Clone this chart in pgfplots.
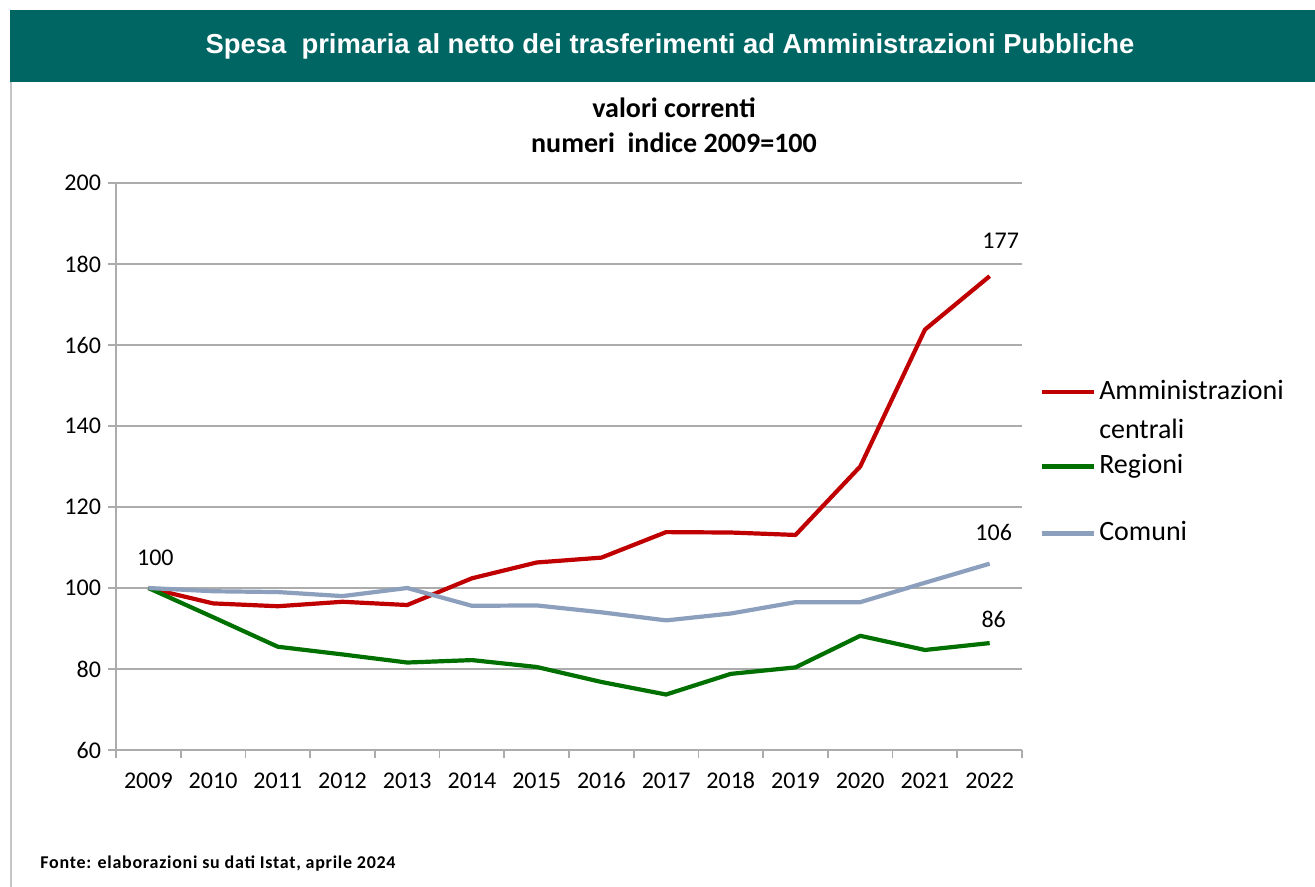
\documentclass[border=0pt]{standalone}
\usepackage{fontspec}
\setmainfont{Carlito}
\newfontfamily\titlefont{Liberation Sans}
\newfontfamily\sourcefont[LetterSpace=4]{Carlito}
\usepackage{pgfplots}
\pgfplotsset{compat=1.18}

\definecolor{banner}{RGB}{0,102,100}
\definecolor{gridgray}{RGB}{172,172,172}
\definecolor{amcentr}{RGB}{192,0,0}
\definecolor{regioni}{RGB}{0,112,0}
\definecolor{comuni}{RGB}{140,160,190}

\pgfplotsset{
  endlabel/.style={draw=none, forget plot, nodes near coords,
    point meta=explicit symbolic,
    nodes near coords style={anchor=center, inner sep=0pt, text=black,
      font=\fontsize{12bp}{14bp}\selectfont, #1}},
}

\begin{document}
\begin{tikzpicture}[x=1bp,y=1bp]
% page: 1315x887 px at 0.5bp per px
\path[use as bounding box, fill=white] (0,0) rectangle (657.5,-443.5);
\fill[banner] (5,-5) rectangle (657.5,-41);
\draw[gridgray!70, line width=1bp] (5.5,-41) -- (5.5,-443.5);
\node[text=white, font=\titlefont\bfseries\fontsize{13.7bp}{16bp}\selectfont] at (335,-23)
  {Spesa\ \ primaria al netto dei trasferimenti ad Amministrazioni Pubbliche};
\node[anchor=base, font=\bfseries\fontsize{14bp}{17bp}\selectfont] at (337,-59) {valori correnti};
\node[anchor=base, font=\bfseries\fontsize{14bp}{17bp}\selectfont] at (337,-76.5) {numeri\ \ indice 2009=100};
\node[anchor=base west, inner sep=0, font=\sourcefont\bfseries\fontsize{9bp}{10bp}\selectfont] at (20,-434)
  {Fonte: elaborazioni su dati Istat, aprile 2024};

\begin{axis}[
    at={(58bp,-375bp)}, anchor=south west,
    scale only axis, width=453bp, height=283.5bp,
    xmin=-0.5, xmax=13.5, ymin=60, ymax=200,
    xtick={-0.5,0.5,...,13.5},
    x tick label as interval,
    xticklabels={2009,2010,2011,2012,2013,2014,2015,2016,2017,2018,2019,2020,2021,2022},
    ytick={60,80,...,200},
    ymajorgrids=true,
    grid style={gridgray, line width=0.9bp},
    axis x line*=bottom, axis y line*=left,
    axis line style={gridgray, line width=0.9bp, -},
    tick align=outside, major tick length=4bp,
    tick style={gridgray, line width=0.9bp},
    ticklabel style={font=\fontsize{12bp}{14bp}\selectfont, text=black},
    xticklabel style={anchor=base, yshift=-15bp},
    /pgf/number format/assume math mode=true,
    legend cell align=left,
    legend style={draw=none, fill=none, inner sep=0pt, outer sep=0pt,
      at={(1.0199,0.6526)}, anchor=north west,
      font=\fontsize{14bp}{19.5bp}\selectfont,
      row sep=6.5bp, column sep=1.5bp,
      cells={anchor=base west},
      nodes={inner sep=0pt, align=left}},
    legend image code/.code={\draw[#1] (0bp,3.5bp) -- (26bp,3.5bp);},
]
\addplot[amcentr, line width=2.1bp, line join=round,
  legend image post style={yshift=19.5bp}] coordinates {
  (0,100) (1,96.2) (2,95.5) (3,96.6) (4,95.8) (5,102.4) (6,106.3)
  (7,107.5) (8,113.8) (9,113.7) (10,113.1) (11,130) (12,163.8) (13,177)};
\addlegendentry{Amministrazioni\\centrali}
\addplot[regioni, line width=2.1bp, line join=round] coordinates {
  (0,100) (1,92.8) (2,85.5) (3,83.6) (4,81.6) (5,82.2) (6,80.5)
  (7,76.8) (8,73.7) (9,78.8) (10,80.4) (11,88.2) (12,84.7) (13,86.4)};
\addlegendentry{Regioni}
\addplot[comuni, line width=2.1bp, line join=round] coordinates {
  (0,100) (1,99.2) (2,99.0) (3,98.0) (4,100) (5,95.6) (6,95.7)
  (7,94.0) (8,92.0) (9,93.7) (10,96.5) (11,96.5) (12,101.3) (13,106)};
\addlegendentry{\rule{0pt}{25.5bp}Comuni}

\addplot[endlabel={xshift=3.5bp, yshift=15bp}] coordinates {(0,100) [100]};
\addplot[endlabel={xshift=5.5bp, yshift=17.8bp}] coordinates {(13,177) [177]};
\addplot[endlabel={xshift=2bp, yshift=15.5bp}] coordinates {(13,106) [106]};
\addplot[endlabel={xshift=2bp, yshift=12bp}] coordinates {(13,86.4) [86]};
\end{axis}
\end{tikzpicture}
\end{document}
